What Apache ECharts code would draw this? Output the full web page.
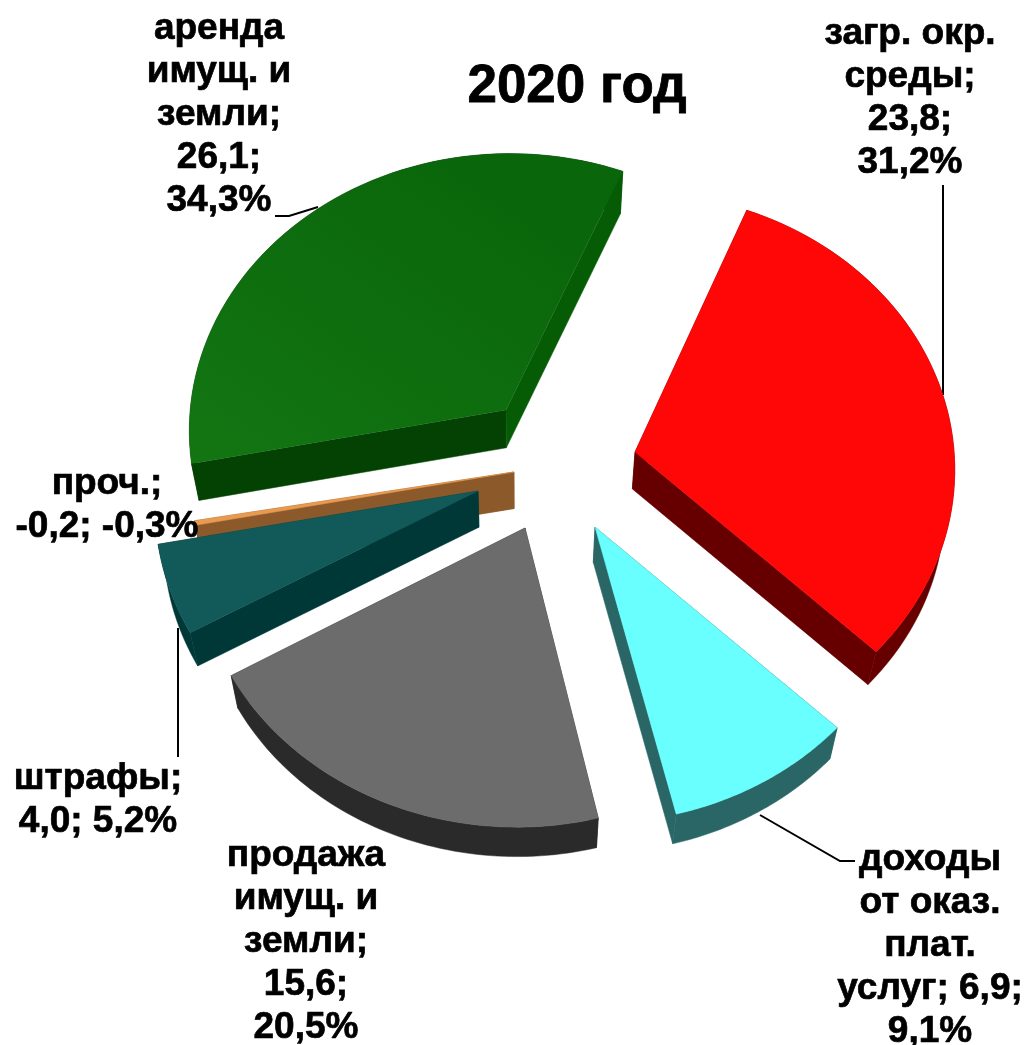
<!DOCTYPE html>
<html>
<head>
<meta charset="utf-8">
<style>html,body{margin:0;padding:0;background:#fff}#main{width:1029px;height:1045px}</style>
<script src="https://cdn.jsdelivr.net/npm/echarts@6/dist/echarts.min.js"></script>
</head>
<body>
<div id="main"></div>
<script>
const categories = ['загр. окр. среды', 'доходы от оказ. плат. услуг', 'продажа имущ. и земли', 'штрафы', 'проч.', 'аренда имущ. и земли'];
const values = [23.8, 6.9, 15.6, 4.0, -0.2, 26.1];
const percents = [31.2, 9.1, 20.5, 5.2, -0.3, 34.3];
const labelNames = ['загр. окр.\nсреды;', 'доходы\nот оказ.\nплат.\nуслуг;', 'продажа\nимущ. и\nземли;', 'штрафы;', 'проч.;', 'аренда\nимущ. и\nземли;'];
const labelNameGaps = ['\n', ' ', '\n', '\n', '\n', '\n'];
const labelValueGaps = ['\n', '\n', '\n', ' ', ' ', '\n'];

// layout and colours of the slices, same order as the values
const apex = [[635, 452], [595, 527], [525, 528], [478, 491], [514, 472], [506, 410]];
const rimShift = [[-1, -1], [0, 0], [-8, 3], [-2, -3], [-1, -3], [4, 2]];
const topColor = ['#ff0707', '#69ffff', '#6c6c6c', '#125a5a', '#e89a50', '#0b6b0b'];
const wallColor = ['#660000', '#2a6666', '#2a2a2a', '#003838', '#8c5a2a', '#044204'];
const endWallColor = ['#660000', '#2a6666', '#2a2a2a', '#003838', '#8c5a2a', '#055c05'];
const labelPos = [[910, 12], [930, 838], [306, 834], [98, 757], [107, 462], [219, 7]];
const drawOrder = [5, 4, 3, 2, 1, 0];

const startAngle = 22, rx = 320, ry = 276, persp = 0.068;
const total = values.reduce((s, v) => s + Math.abs(v), 0);

function fmt(v) {
	return v.toFixed(1).replace('.', ',');
}

// disk point (angle clockwise from top) projected with a little perspective
function rim(i, deg) {
	const a = deg * Math.PI / 180;
	const u = Math.sin(a), v = -Math.cos(a);
	const s = 1 / (1 - persp * v);
	return [apex[i][0] + rimShift[i][0] + rx * u * s, apex[i][1] + rimShift[i][1] + ry * v * s];
}
function lower(p) {
	return [520 + (p[0] - 520) * 0.977, p[1] * 0.98 + 46];
}

const angles = [];
let acc = startAngle;
values.forEach(function(v) {
	const span = Math.abs(v) / total * 360;
	angles.push([acc, acc + span]);
	acc += span;
});

function poly(api, pts, fill) {
	return {
		type: 'polygon',
		shape: { points: pts.map(p => api.coord(p)) },
		style: { fill: fill, stroke: typeof fill === 'string' ? fill : null, lineWidth: 0.5 }
	};
}

function renderSlice(params, api) {
	const i = api.value(0);
	const steps = 60, arc = [];
	for (let k = 0; k <= steps; k++) {
		arc.push(rim(i, angles[i][0] + (angles[i][1] - angles[i][0]) * k / steps));
	}
	const a = apex[i], low = arc.map(lower), la = lower(a);
	const top = [a].concat(arc);
	const outer = arc.concat(low.slice().reverse());
	let fill = topColor[i];
	if (i === 5) {
		// green top gets lighter towards the lower left
		fill = new echarts.graphic.LinearGradient(0.1, 1, 0.6, 0, [
			{ offset: 0, color: '#127512' },
			{ offset: 1, color: '#0a660a' }
		]);
	}
	return {
		type: 'group',
		children: [
			poly(api, outer, wallColor[i]),
			poly(api, [a, arc[0], low[0], la], wallColor[i]),
			poly(api, [a, arc[steps], low[steps], la], endWallColor[i]),
			poly(api, top, fill)
		]
	};
}

const chart = echarts.init(document.getElementById('main'));

const leaders = [
	[[943, 185], [943, 395]],
	[[760, 815], [840, 861], [855, 861]],
	[[178, 628], [178, 757]],
	[[275, 216], [289, 216], [318, 207]]
];

const graphics = [{
	type: 'text', left: 467, top: 60, z: 20,
	style: { text: '2020 год', fill: '#000', stroke: '#000', lineWidth: 0.8, font: 'bold 53px "Liberation Sans", Arial' }
}];
leaders.forEach(function(pts) {
	graphics.push({
		type: 'polyline', z: -1, silent: true,
		shape: { points: pts },
		style: { stroke: '#000', lineWidth: 2, fill: null }
	});
});
categories.forEach(function(name, i) {
	graphics.push({
		type: 'text', x: labelPos[i][0], y: labelPos[i][1], z: 20,
		style: {
			text: labelNames[i] + labelNameGaps[i] + fmt(values[i]) + ';' + labelValueGaps[i] + fmt(percents[i]) + '%',
			fill: '#000',
			stroke: '#000',
			lineWidth: 0.7,
			align: 'center',
			font: 'bold 37px "Liberation Sans", Arial',
			lineHeight: 43
		}
	});
});

const option = {
	backgroundColor: '#fff',
	animation: false,
	grid: { left: 0, right: 0, top: 0, bottom: 0 },
	xAxis: { type: 'value', min: 0, max: 1029, show: false },
	yAxis: { type: 'value', min: 0, max: 1045, inverse: true, show: false },
	graphic: graphics,
	series: [{
		type: 'custom',
		coordinateSystem: 'cartesian2d',
		renderItem: renderSlice,
		silent: true,
		clip: false,
		encode: { x: 0, y: 1 },
		data: drawOrder.map(i => [i, Math.abs(values[i])])
	}]
};
chart.setOption(option);
</script>
</body>
</html>
